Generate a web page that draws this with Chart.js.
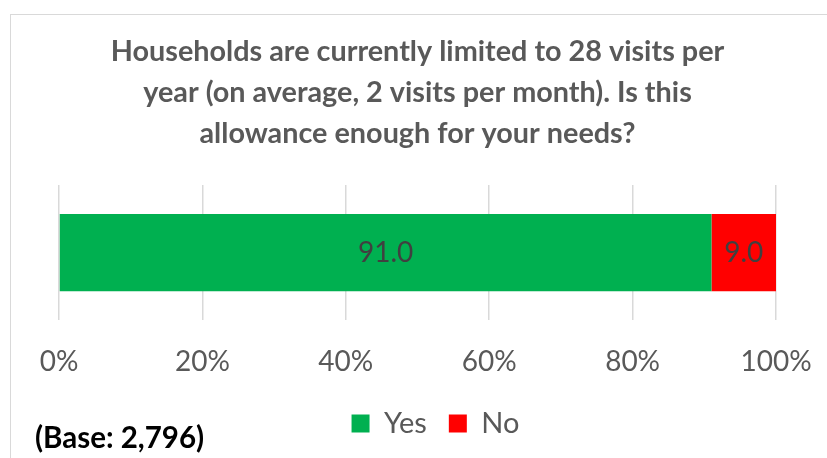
<!DOCTYPE html>
<html>
<head>
<meta charset="utf-8">
<script src="https://cdn.jsdelivr.net/npm/chart.js@4.4.0/dist/chart.umd.min.js"></script>
<style>
  html, body { margin:0; padding:0; background:#fff; overflow:hidden; }
  #wrap { position:relative; width:827px; height:458px; }
  #frame { position:absolute; left:10px; top:14px; width:900px; height:600px; border:1.5px solid #d9d9d9; box-sizing:border-box; }
  #c { position:absolute; left:0; top:0; }
  #base { position:absolute; left:35px; top:420px; font-family:Lato, sans-serif; font-weight:bold; font-size:29.5px; color:#000; line-height:34px; white-space:nowrap; }
</style>
</head>
<body>
<div id="wrap">
  <div id="frame"></div>
  <canvas id="c" width="827" height="458"></canvas>
  <div id="base">(Base: 2,796)</div>
</div>
<script>
const titleLines = [
  "Households are currently limited to 28 visits per",
  "year (on average, 2 visits per month). Is this",
  "allowance enough for your needs?"
];
const categories = ["Allowance"];
const seriesNames = ["Yes", "No"];
const yesValues = [91.0];
const noValues = [9.0];
const tickValues = [0, 20, 40, 60, 80, 100];

const labelPlugin = {
  id: 'barLabels',
  afterDatasetsDraw(chart) {
    const ctx = chart.ctx;
    ctx.save();
    ctx.font = '28px Lato, sans-serif';
    ctx.fillStyle = '#404040';
    ctx.textAlign = 'center';
    ctx.textBaseline = 'middle';
    chart.data.datasets.forEach((ds, i) => {
      const meta = chart.getDatasetMeta(i);
      meta.data.forEach((el, j) => {
        const p = el.getCenterPoint();
        ctx.fillText(ds.data[j].toFixed(1), p.x, p.y);
      });
    });
    ctx.restore();
  }
};

const legendShift = {
  id: 'legendShift',
  afterLayout(chart) {
    if (chart.legend) { chart.legend.left += 18; chart.legend.right += 18; }
  }
};

new Chart(document.getElementById('c'), {
  type: 'bar',
  data: {
    labels: categories,
    datasets: [
      { label: seriesNames[0], data: yesValues, backgroundColor: '#00B050', categoryPercentage: 1, barPercentage: 0.57 },
      { label: seriesNames[1], data: noValues, backgroundColor: '#FF0000', categoryPercentage: 1, barPercentage: 0.57 }
    ]
  },
  options: {
    indexAxis: 'y',
    responsive: false,
    animation: false,
    layout: { padding: { left: 59, right: 51, top: 0, bottom: 10 } },
    scales: {
      x: {
        stacked: true, min: 0, max: 100,
        afterBuildTicks(axis) { axis.ticks = tickValues.map(v => ({ value: v })); },
        ticks: { callback: v => v + '%', color: '#595959', font: { family: 'Lato', size: 28 }, padding: 0, maxRotation: 0 },
        grid: { color: '#d9d9d9', lineWidth: 1.5, drawTicks: true, tickLength: 25, tickColor: 'rgba(0,0,0,0)' },
        border: { display: false }
      },
      y: { stacked: true, display: false }
    },
    plugins: {
      title: {
        display: true, text: titleLines, color: '#595959',
        font: { family: 'Lato', size: 28.8, weight: 'bold', lineHeight: 1.4236 },
        padding: { top: 31, bottom: 31 }
      },
      legend: {
        position: 'bottom',
        title: { display: true, text: '', font: { size: 1, lineHeight: 1 }, padding: { top: 4, bottom: 3 } },
        labels: { color: '#595959', font: { family: 'Lato', size: 29 }, boxWidth: 18, boxHeight: 18, padding: 22 }
      },
      tooltip: { enabled: false }
    }
  },
  plugins: [labelPlugin, legendShift]
});
</script>
</body>
</html>
